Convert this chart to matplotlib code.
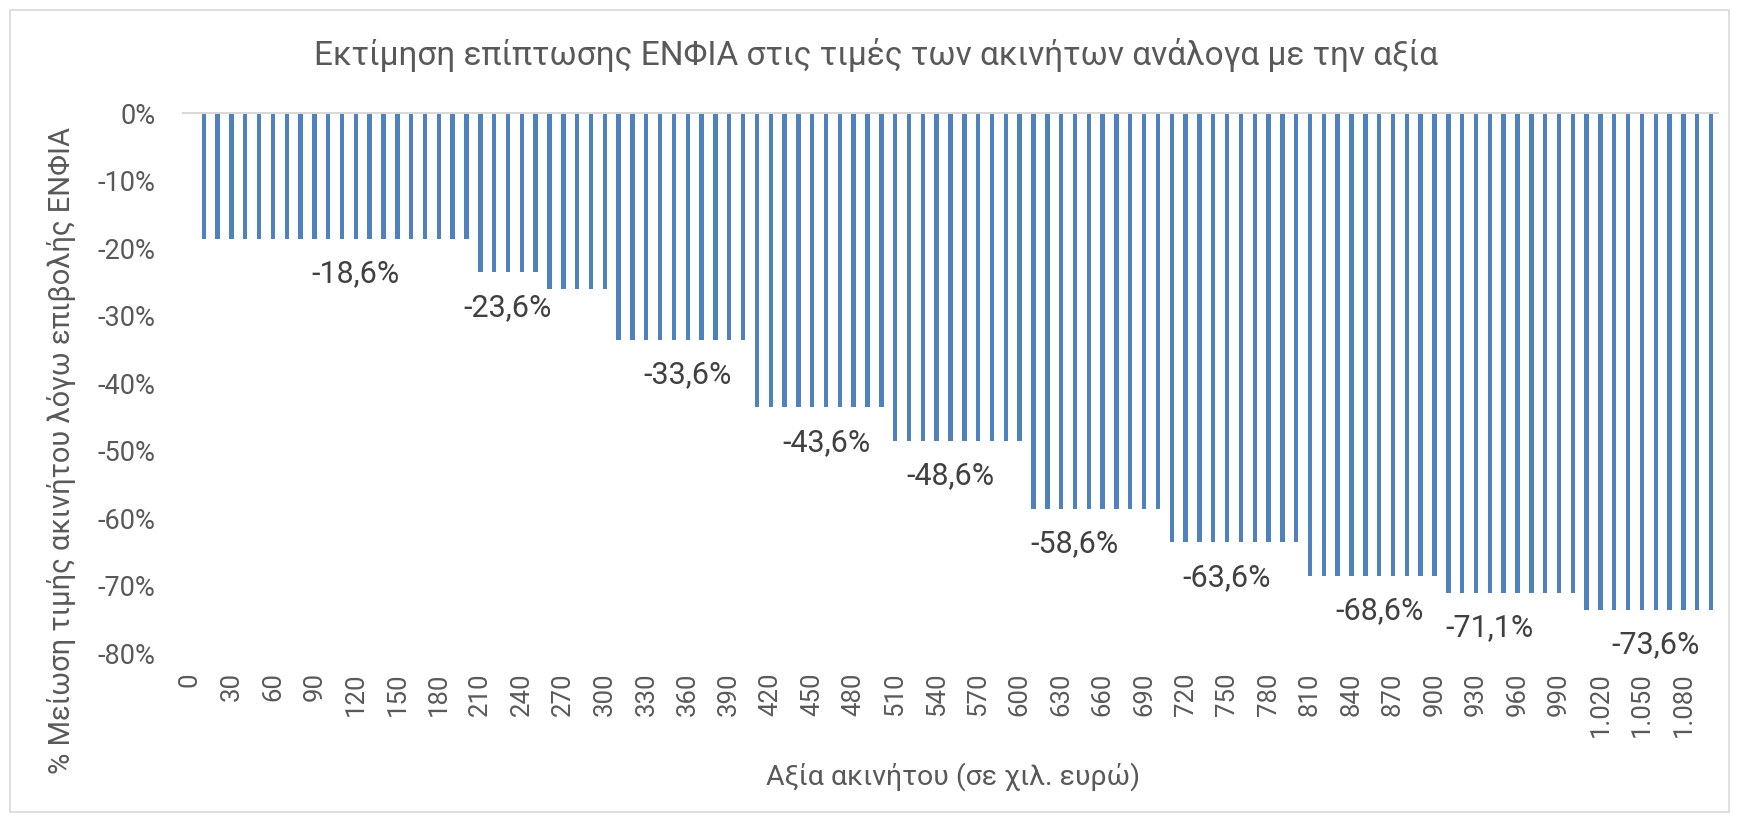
import matplotlib
matplotlib.use("Agg")
import matplotlib.pyplot as plt
from matplotlib.ticker import FuncFormatter

# ---- data ----
values_k = list(range(0, 1101, 10))          # property value in thousand euro
group_edges = [0, 200, 250, 300, 400, 500, 600, 700, 800, 900, 1000, 1100]
group_vals = [-18.6, -23.6, -26.1, -33.6, -43.6, -48.6, -58.6, -63.6, -68.6, -71.1, -73.6]
label_at = [120, 230, 360, 460, 550, 640, 750, 860, 940, 1060]

impact = []
for v in values_k:
    if v == 0:
        impact.append(0.0)
        continue
    for i in range(len(group_vals)):
        if group_edges[i] < v <= group_edges[i + 1]:
            impact.append(group_vals[i] / 100.0)
            break

tick_vals = list(range(0, 1081, 30))

title = "Εκτίμηση επίπτωσης ΕΝΦΙΑ στις τιμές των ακινήτων ανάλογα με την αξία"
xlabel = "Αξία ακινήτου (σε χιλ. ευρώ)"
ylabel = "% Μείωση τιμής ακινήτου λόγω επιβολής ΕΝΦΙΑ"

FONT = ["Roboto", "DejaVu Sans"]
plt.rcParams["font.family"] = FONT

W, H = 1739, 822
fig = plt.figure(figsize=(W / 100, H / 100), dpi=100)
ax = fig.add_axes([183 / W, 1 - 653 / H, (1718 - 183) / W, (653 - 113) / H])

bar_color = "#4F81BD"
ax.bar(values_k, impact, width=3.2, color=bar_color, zorder=2)

ax.set_xlim(-5, 1105)
ax.set_ylim(-0.8, 0)
ax.set_yticks([i / 10 for i in range(-8, 1)])
ax.yaxis.set_major_formatter(FuncFormatter(lambda y, p: f"{round(y*100):d}%"))
ax.set_xticks(tick_vals)
ax.set_xticklabels([f"{v:,}".replace(",", ".") for v in tick_vals], rotation=90)

for s in ["left", "right", "bottom"]:
    ax.spines[s].set_visible(False)
ax.spines["top"].set_color("#D9D9D9")
ax.spines["top"].set_linewidth(1.5)
ax.tick_params(axis="both", length=0, colors="#595959")
ax.tick_params(axis="y", pad=20, labelsize=19.5)
ax.tick_params(axis="x", pad=14, labelsize=18.5)

for v, val in zip(values_k, impact):
    if v in label_at:
        ax.annotate(f"{val*100:.1f}%".replace(".", ","), xy=(v, val),
                    xytext=(0, -35), textcoords="offset pixels",
                    ha="center", va="center", fontsize=22, color="#404040")

fig.text(876 / W, 1 - 55 / H, title, ha="center", va="center", fontsize=24, color="#595959")
fig.text(953 / W, 1 - 777 / H, xlabel, ha="center", va="center", fontsize=20.5, color="#595959")
fig.text(62 / W, 1 - 450 / H, ylabel, ha="center", va="center", rotation=90, fontsize=21, color="#595959")

# chart border
fig.patches.append(plt.Rectangle((10 / W, 10 / H), 1 - 20 / W, 1 - 20 / H, transform=fig.transFigure,
                                 fill=False, edgecolor="#D9D9D9", linewidth=1.2))

fig.savefig("out.png", dpi=100)
